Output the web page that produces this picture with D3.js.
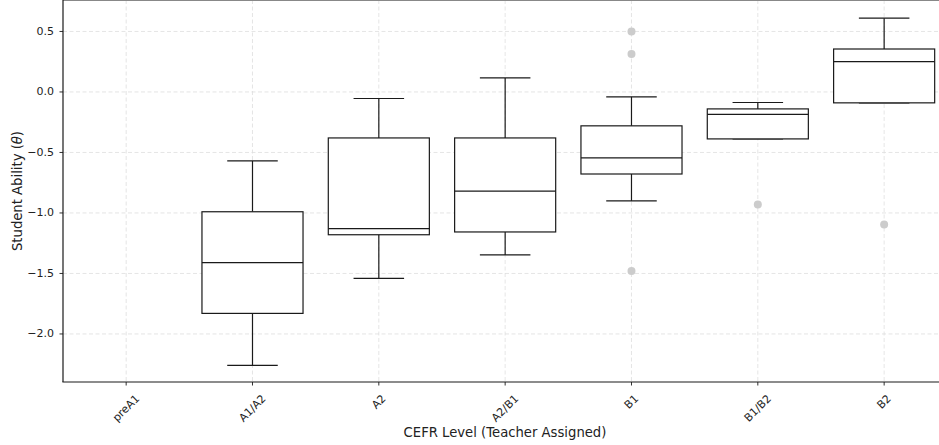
<!DOCTYPE html>
<html>
<head>
<meta charset="utf-8">
<script src="https://cdn.jsdelivr.net/npm/d3@7"></script>
<style>
  body { margin: 0; background: #fff; }
  text { font-family: "DejaVu Sans", sans-serif; fill: #222; }
</style>
</head>
<body>
<svg id="chart" width="939" height="445"></svg>
<script>
// CEFR levels (teacher assigned) and box stats of student ability
const categories = ["preA1", "A1/A2", "A2", "A2/B1", "B1", "B1/B2", "B2"];
const whiskerLow = [null, -2.26, -1.54, -1.347, -0.90, -0.388, -0.09];
const q1 = [null, -1.83, -1.18, -1.157, -0.678, -0.388, -0.09];
const median = [null, -1.41, -1.13, -0.82, -0.545, -0.186, 0.25];
const q3 = [null, -0.99, -0.38, -0.38, -0.28, -0.14, 0.355];
const whiskerHigh = [null, -0.57, -0.054, 0.116, -0.04, -0.087, 0.61];
const outliers = [[], [], [], [], [0.5, 0.314, -1.48], [-0.93], [-1.095]];
const yTicks = [-2.0, -1.5, -1.0, -0.5, 0.0, 0.5];

const config = {
  left: 63,
  top: 0,
  bottom: 382,
  step: 126.33,
  boxW: 0.8,
  capW: 0.4,
  tickFont: 11,
  labelFont: 13.2,
};

const svg = d3.select("#chart");

const x = d3
  .scaleLinear()
  .domain([-0.5, categories.length - 0.5])
  .range([config.left, config.left + config.step * categories.length]);

const y = d3.scaleLinear().domain([-2.397, 0.76]).range([config.bottom, config.top]);

const fmt = (v) => d3.format(".1f")(v).replace("-", "\u2212");

// grid
const grid = svg.append("g");
categories.forEach((c, i) => {
  grid
    .append("line")
    .attr("x1", x(i))
    .attr("x2", x(i))
    .attr("y1", config.top)
    .attr("y2", config.bottom)
    .attr("stroke", "#dedede")
    .attr("stroke-width", 0.8)
    .attr("stroke-dasharray", "4,2.5");
});
yTicks.forEach((t) => {
  grid
    .append("line")
    .attr("x1", config.left)
    .attr("x2", 939)
    .attr("y1", y(t))
    .attr("y2", y(t))
    .attr("stroke", "#dedede")
    .attr("stroke-width", 0.8)
    .attr("stroke-dasharray", "4,2.5");
});

// boxes
const boxes = svg.append("g").attr("stroke", "#1a1a1a").attr("stroke-width", 1.2).attr("fill", "none");
categories.forEach((c, i) => {
  if (median[i] == null) return;
  const cx = x(i);
  const bw = config.boxW * config.step;
  const cw = config.capW * config.step;

  // whiskers
  boxes.append("line").attr("x1", cx).attr("x2", cx).attr("y1", y(q3[i])).attr("y2", y(whiskerHigh[i]));
  boxes.append("line").attr("x1", cx).attr("x2", cx).attr("y1", y(q1[i])).attr("y2", y(whiskerLow[i]));
  boxes
    .append("line")
    .attr("x1", cx - cw / 2)
    .attr("x2", cx + cw / 2)
    .attr("y1", y(whiskerHigh[i]))
    .attr("y2", y(whiskerHigh[i]));
  boxes
    .append("line")
    .attr("x1", cx - cw / 2)
    .attr("x2", cx + cw / 2)
    .attr("y1", y(whiskerLow[i]))
    .attr("y2", y(whiskerLow[i]));

  boxes
    .append("rect")
    .attr("x", cx - bw / 2)
    .attr("y", y(q3[i]))
    .attr("width", bw)
    .attr("height", y(q1[i]) - y(q3[i]))
    .attr("fill", "#fff");
  boxes
    .append("line")
    .attr("x1", cx - bw / 2)
    .attr("x2", cx + bw / 2)
    .attr("y1", y(median[i]))
    .attr("y2", y(median[i]));

  outliers[i].forEach((v) => {
    svg
      .append("circle")
      .attr("cx", cx)
      .attr("cy", y(v))
      .attr("r", 4)
      .attr("fill", "#cccccc");
  });
});

// spines
svg
  .append("line")
  .attr("x1", config.left)
  .attr("x2", 939)
  .attr("y1", 0)
  .attr("y2", 0)
  .attr("stroke", "#888")
  .attr("stroke-width", 2);
svg
  .append("line")
  .attr("x1", config.left)
  .attr("x2", config.left)
  .attr("y1", 0)
  .attr("y2", config.bottom)
  .attr("stroke", "#1a1a1a")
  .attr("stroke-width", 1.2);
svg
  .append("line")
  .attr("x1", config.left - 0.6)
  .attr("x2", 939)
  .attr("y1", config.bottom)
  .attr("y2", config.bottom)
  .attr("stroke", "#1a1a1a")
  .attr("stroke-width", 1.2);

// y axis ticks
yTicks.forEach((t) => {
  svg
    .append("line")
    .attr("x1", config.left - 3.5)
    .attr("x2", config.left)
    .attr("y1", y(t))
    .attr("y2", y(t))
    .attr("stroke", "#1a1a1a")
    .attr("stroke-width", 0.9);
  svg
    .append("text")
    .attr("x", config.left - 9)
    .attr("y", y(t))
    .attr("text-anchor", "end")
    .attr("dominant-baseline", "central")
    .attr("font-size", config.tickFont)
    .text(fmt(t));
});

// x axis ticks, rotated 45
categories.forEach((c, i) => {
  svg
    .append("line")
    .attr("x1", x(i))
    .attr("x2", x(i))
    .attr("y1", config.bottom)
    .attr("y2", config.bottom + 3.5)
    .attr("stroke", "#1a1a1a")
    .attr("stroke-width", 0.9);
  const t = svg
    .append("text")
    .attr("text-anchor", "middle")
    .attr("dominant-baseline", "central")
    .attr("font-size", config.tickFont)
    .text(c);
  const w = t.node().getComputedTextLength();
  const h = (w + config.tickFont * 1.1) * Math.SQRT1_2;
  t.attr("transform", `translate(${x(i)},${config.bottom + 10.5 + h / 2}) rotate(-45)`);
});

// axis labels
svg
  .append("text")
  .attr("x", 505)
  .attr("y", 437)
  .attr("text-anchor", "middle")
  .attr("font-size", config.labelFont)
  .text("CEFR Level (Teacher Assigned)");

const yl = svg
  .append("text")
  .attr("transform", `translate(21.5,191) rotate(-90)`)
  .attr("text-anchor", "middle")
  .attr("font-size", config.labelFont);
yl.append("tspan").text("Student Ability (");
yl.append("tspan").attr("font-style", "italic").text("\u03b8");
yl.append("tspan").text(")");
</script>
</body>
</html>
